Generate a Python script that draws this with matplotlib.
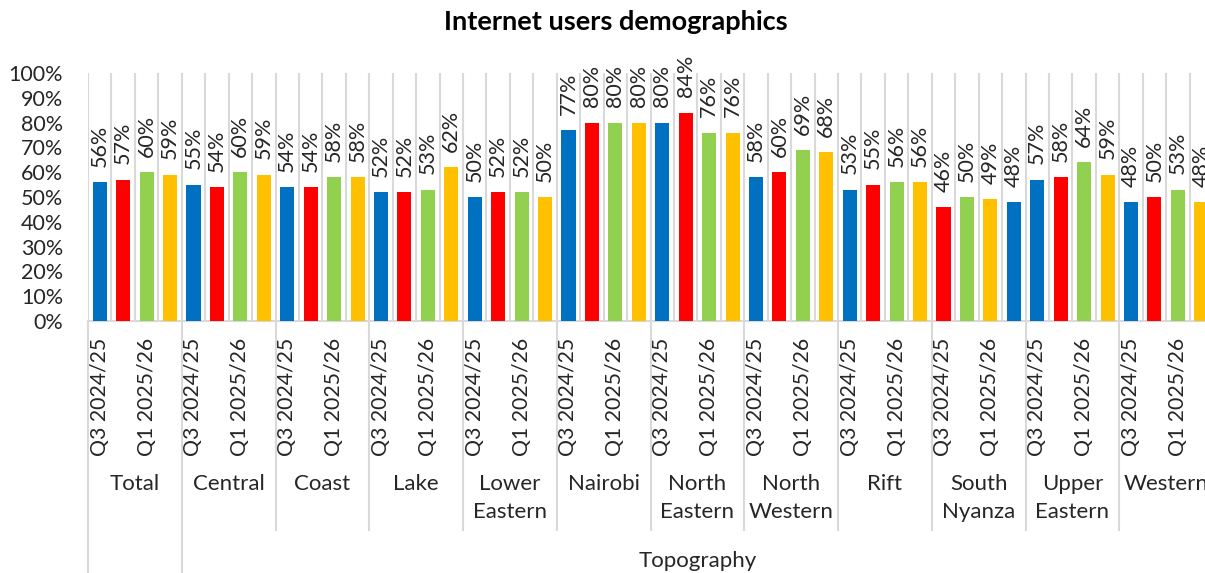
import numpy as np
import matplotlib.pyplot as plt
from matplotlib import transforms

plt.rcParams['font.family'] = ['Lato', 'DejaVu Sans']

groups = ["Total", "Central", "Coast", "Lake", "Lower\nEastern", "Nairobi",
          "North\nEastern", "North\nWestern", "Rift", "South\nNyanza",
          "Upper\nEastern", "Western"]
quarter_labels = ["Q3 2024/25", "", "Q1 2025/26", ""]
values = [
    [56, 57, 60, 59],
    [55, 54, 60, 59],
    [54, 54, 58, 58],
    [52, 52, 53, 62],
    [50, 52, 52, 50],
    [77, 80, 80, 80],
    [80, 84, 76, 76],
    [58, 60, 69, 68],
    [53, 55, 56, 56],
    [46, 50, 49, 48],
    [57, 58, 64, 59],
    [48, 50, 53, 48],
]
top_label = "Topography"

blue, red, green, yellow = "#0070C0", "#FF0000", "#92D050", "#FFC000"
base_colors = [blue, red, green, yellow]
# South Nyanza's points are coloured in a shifted order in the source
color_order = {9: [red, green, yellow, blue]}

W, H = 1205, 573
fig = plt.figure(figsize=(W / 100, H / 100), dpi=100)
x0, x1, y0, y1 = 88, 1213, 321, 73
ax = fig.add_axes([x0 / W, (H - y0) / H, (x1 - x0) / W, (y0 - y1) / H])

n = len(quarter_labels)
vals = np.array(values, dtype=float).ravel() / 100
xs = np.arange(len(vals)) + 0.5
cols = []
for i in range(len(groups)):
    cols += color_order.get(i, base_colors)

ax.bar(xs, vals, width=0.6, color=cols, zorder=3)
for x, v in zip(xs, vals):
    ax.annotate(f"{v:.0%}", (x, v), xytext=(0, 11), textcoords="offset points",
                rotation=90, ha="center", va="bottom", fontsize=15.5,
                color="#262626")

ax.set_xlim(0, len(vals))
ax.set_ylim(0, 1)
ax.set_yticks(np.arange(0, 1.01, 0.1))
ax.set_yticklabels([f"{int(round(t * 100))}%" for t in np.arange(0, 1.01, 0.1)],
                   fontsize=15.5)
ax.set_xticks(xs)
ax.set_xticklabels(quarter_labels * len(groups), rotation=90, fontsize=15.3)
ax.set_xticks(np.arange(len(vals) + 1), minor=True)
ax.tick_params(axis="both", length=0, labelcolor="#262626")
ax.tick_params(axis="x", pad=12)
ax.tick_params(axis="y", pad=18)
ax.tick_params(axis="x", which="minor", length=0)
ax.grid(axis="x", which="minor", color="#D9D9D9", lw=1.5, zorder=0)
for s in ["top", "right", "left"]:
    ax.spines[s].set_visible(False)
ax.spines["bottom"].set_color("#D9D9D9")
ax.spines["bottom"].set_linewidth(1.5)

# multi-level category axis
trans = transforms.blended_transform_factory(ax.transData, ax.transAxes)
ph = y0 - y1
for g in range(len(groups) + 1):
    bottom = 573 if g <= 1 else 530
    ax.plot([g * n, g * n], [0, (y0 - bottom) / ph], transform=trans,
            color="#D9D9D9", lw=1.5, clip_on=False)
for g, name in enumerate(groups):
    ax.text(g * n + n / 2, (y0 - 474) / ph, name, transform=trans,
            ha="center", va="top", fontsize=16, color="#262626",
            linespacing=1.5)
ax.text((1 + len(groups)) * n / 2, (y0 - 561) / ph, top_label, transform=trans,
        ha="center", va="center", fontsize=16, color="#262626")

fig.text(616 / W, 1 - 22 / H, "Internet users demographics", ha="center",
         va="center", fontsize=19.5, fontweight="bold", color="black")

fig.savefig("out.png", dpi=100)
